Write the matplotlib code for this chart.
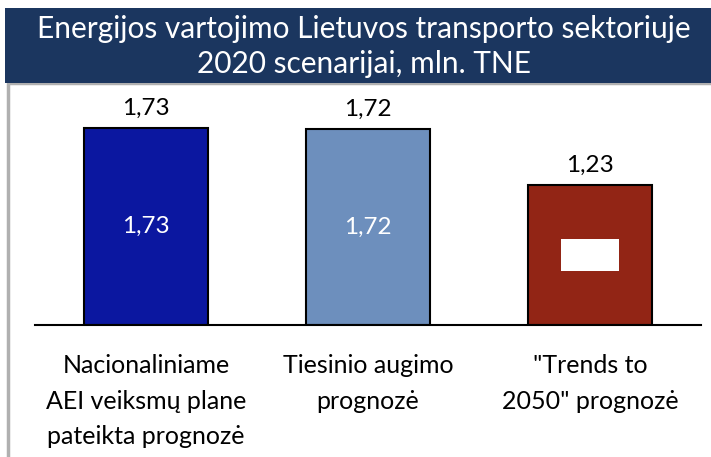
import matplotlib
matplotlib.use("Agg")
import matplotlib.pyplot as plt
from matplotlib.patches import Rectangle

# Duomenys
categories = ["Nacionaliniame\nAEI veiksmų plane\npateikta prognozė",
              "Tiesinio augimo\nprognozė",
              "\"Trends to\n2050\" prognozė"]
values = [1.73, 1.72, 1.23]
value_labels = ["1,73", "1,72", "1,23"]
colors = ["#0b17a0", "#6d8fbd", "#922515"]

plt.rcParams['font.family'] = ['Lato', 'DejaVu Sans']

W, H = 711, 457
fig = plt.figure(figsize=(W / 100, H / 100), dpi=100)

# fonas: antraštės juosta ir rėmelis
fig.patches.append(Rectangle((8 / W, -0.1), 1.0, (H - 83) / H + 0.1, transform=fig.transFigure,
                             facecolor="white", edgecolor="#b0b0b0", linewidth=2.5, zorder=-2))
fig.patches.append(Rectangle((5 / W, (H - 83) / H), 1.0, 75 / H, transform=fig.transFigure,
                             facecolor="#1b365f", edgecolor="none", zorder=-1))
fig.text(364 / W, 1 - 29 / H, "Energijos vartojimo Lietuvos transporto sektoriuje",
         color="white", fontsize=21.5, ha="center", va="center")
fig.text(364 / W, 1 - 64 / H, "2020 scenarijai, mln. TNE",
         color="white", fontsize=21.5, ha="center", va="center")

ax = fig.add_axes([35 / W, (H - 325) / H, 666 / W, 225 / H])
ax.set_facecolor("none")
x = range(len(values))
bars = ax.bar(x, values, width=0.56, color=colors, edgecolor="black", linewidth=1.5, zorder=2)
ax.set_xlim(-0.5, 2.5)
ax.set_ylim(0, 225 / 114)

for spine in ["top", "left", "right"]:
    ax.spines[spine].set_visible(False)
ax.spines["bottom"].set_linewidth(1.5)
ax.set_yticks([])
ax.set_xticks(list(x))
ax.set_xticklabels(categories, fontsize=18, linespacing=1.66, va="top")
ax.tick_params(axis="x", length=0, pad=21)

for i, (v, lab) in enumerate(zip(values, value_labels)):
    ax.annotate(lab, (i, v), xytext=(0, 14), textcoords="offset points",
                ha="center", va="center", fontsize=17.5, color="black")
    if i < 2:
        ax.text(i, v / 2, lab, ha="center", va="center", fontsize=17.5, color="white")
    else:
        ax.text(i, v / 2, lab, ha="center", va="center", fontsize=17.5, color="white",
                bbox=dict(facecolor="white", edgecolor="none", pad=4))

fig.savefig("out.png", dpi=100)
